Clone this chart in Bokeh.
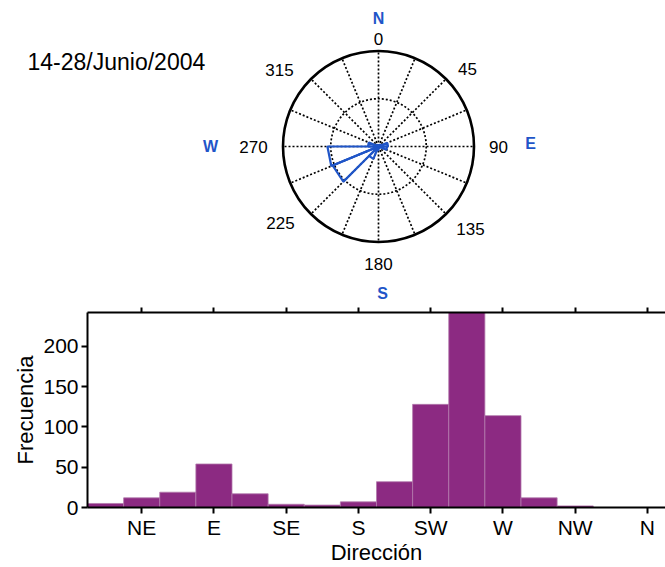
import numpy as np
from bokeh.plotting import figure
from bokeh.models import Label, LinearAxis, FixedTicker, Range1d
from bokeh.layouts import column, row
from bokeh.embed import file_html
from bokeh.resources import INLINE
from bokeh.core.properties import value

# ---------------- data ----------------
title_text = "14-28/Junio/2004"

# histogram of direction (bin centres in degrees, 22.5 deg bins)
hist_centers = [22.5, 45, 67.5, 90, 112.5, 135, 157.5, 180,
                202.5, 225, 247.5, 270, 292.5, 315, 337.5, 360]
hist_counts = [5, 12, 19, 54, 17, 4, 3, 7,
               32, 128, 242, 114, 12, 2, 0, 0]
dir_ticks = [45, 90, 135, 180, 225, 270, 315, 360]
dir_labels = ["NE", "E", "SE", "S", "SW", "W", "NW", "N"]
freq_ticks = [0, 50, 100, 150, 200]

# rose diagram (bins start angle, compass bearing, 22.5 deg wide)
rose_start = [0, 22.5, 45, 67.5, 90, 112.5, 135, 157.5,
              180, 202.5, 225, 247.5, 270, 292.5, 315, 337.5]
rose_values = [3, 4, 6, 20, 18, 4, 2, 3,
               8, 28, 104, 107, 22, 6, 2, 2]
rose_rings = [100, 200]
rose_label_angles = [0, 45, 90, 135, 180, 225, 270, 315]
rose_label_texts = ["0", "45", "90", "135", "180", "225", "270", "315"]
compass_letters = ["N", "E", "S", "W"]

# ---------------- style / layout ----------------
FONT = "Liberation Sans"
BLUE = "#1f55c8"
BAR = "#8c2a82"
W = 665
TOP_H = 304
BOT_H = 263
R_PX = 95.5
CX, CY = 378, 146           # rose centre (px from left/top of top canvas)
rmax = max(rose_rings)
k = R_PX / rmax             # px per rose unit

# label offsets from rose centre in px (dx right, dy down)
label_off = {0: (0, -108), 45: (89, -78), 90: (120, 0), 135: (92, 82),
             180: (0, 117), 225: (-98, 76), 270: (-125, 0), 315: (-99, -77)}
letter_off = {"N": (0, -128), "E": (152, -3), "S": (4, 147), "W": (-168, 0)}

# ---------------- top: rose ----------------
p1 = figure(width=W, height=TOP_H,
            x_range=Range1d(-CX / k, (W - CX) / k),
            y_range=Range1d(-(TOP_H - CY) / k, CY / k),
            x_axis_location=None, y_axis_location=None,
            toolbar_location=None, output_backend="svg",
            min_border=0)
p1.grid.visible = False
p1.outline_line_color = None

spoke_ang = np.deg2rad(np.array(rose_start))
p1.segment(x0=0, y0=0, x1=rmax * np.sin(spoke_ang), y1=rmax * np.cos(spoke_ang),
           line_color="black", line_width=1.7, line_dash="2 2")
for r in rose_rings[:-1]:
    p1.circle(x=0, y=0, radius=r, fill_color=None, line_color="black",
              line_width=1.7, line_dash="2 2")
p1.circle(x=0, y=0, radius=rmax, fill_color=None, line_color="black", line_width=2.6)

xs, ys = [], []
for a0, v in zip(rose_start, rose_values):
    if v <= 0:
        continue
    t0 = np.deg2rad(a0)
    t1 = np.deg2rad(a0 + 22.5)
    xs.append([0, v * np.sin(t0), v * np.sin(t1), 0])
    ys.append([0, v * np.cos(t0), v * np.cos(t1), 0])
p1.patches(xs, ys, fill_color=None, line_color=BLUE, line_width=2.2)

lx = [label_off[a][0] / k for a in rose_label_angles]
ly = [-label_off[a][1] / k for a in rose_label_angles]
p1.text(x=lx, y=ly, text=rose_label_texts,
        text_align="center", text_baseline="middle",
        text_font=value(FONT), text_font_size="17px", text_color="black")

cx_ = [letter_off[c][0] / k for c in compass_letters]
cy_ = [-letter_off[c][1] / k for c in compass_letters]
p1.text(x=cx_, y=cy_, text=compass_letters,
        text_align="center", text_baseline="middle",
        text_font=value(FONT), text_font_size="16px", text_font_style="bold",
        text_color=BLUE)

p1.add_layout(Label(x=27, y=TOP_H - 61, x_units="screen", y_units="screen",
                    text=title_text, text_font=FONT, text_font_size="23px",
                    text_baseline="middle", text_align="left", text_color="black"))

# ---------------- bottom: histogram ----------------
p2 = figure(width=W, height=BOT_H,
            x_range=Range1d(11.25, 371.25), y_range=Range1d(0, 242),
            toolbar_location=None, output_backend="svg",
            min_border_left=87, min_border_right=0,
            min_border_top=8, min_border_bottom=60,
            x_axis_label="Dirección", y_axis_label="Frecuencia")
p2.grid.visible = False
p2.outline_line_color = None
p2.vbar(x=hist_centers, width=22.5, top=hist_counts, bottom=0,
        fill_color=BAR, line_color="#b27aac", line_width=0.8)

bottom_ax = p2.below[0]
left_ax = p2.left[0]
top_ax = LinearAxis(ticker=FixedTicker(ticks=dir_ticks),
                    major_label_text_font_size="0px", major_label_standoff=0,
                    major_label_text_color=None)
p2.add_layout(top_ax, "above")

bottom_ax.ticker = FixedTicker(ticks=dir_ticks)
bottom_ax.major_label_overrides = {t: l for t, l in zip(dir_ticks, dir_labels)}
left_ax.ticker = FixedTicker(ticks=freq_ticks)

for ax in (bottom_ax, left_ax, top_ax):
    ax.axis_line_width = 2
    ax.axis_line_color = "black"
    ax.major_tick_line_width = 2
    ax.major_tick_line_color = "black"
    ax.major_tick_out = 6
    ax.major_tick_in = 0
    ax.minor_tick_out = 0
    ax.minor_tick_in = 0
    ax.axis_label_text_font = FONT
    ax.axis_label_text_font_style = "normal"
    ax.axis_label_text_font_size = "22px"
    ax.axis_label_text_color = "black"
    ax.major_label_text_font = FONT

for ax in (bottom_ax, left_ax):
    ax.major_label_text_font_size = "21px"
    ax.major_label_text_color = "black"

bottom_ax.major_label_standoff = 2
bottom_ax.axis_label_standoff = -2
left_ax.major_label_standoff = 3
left_ax.axis_label_standoff = 2
top_ax.major_tick_out = 5

layout = column(row(p1), p2, spacing=0)
open("out.html", "w").write(file_html(layout, INLINE))
